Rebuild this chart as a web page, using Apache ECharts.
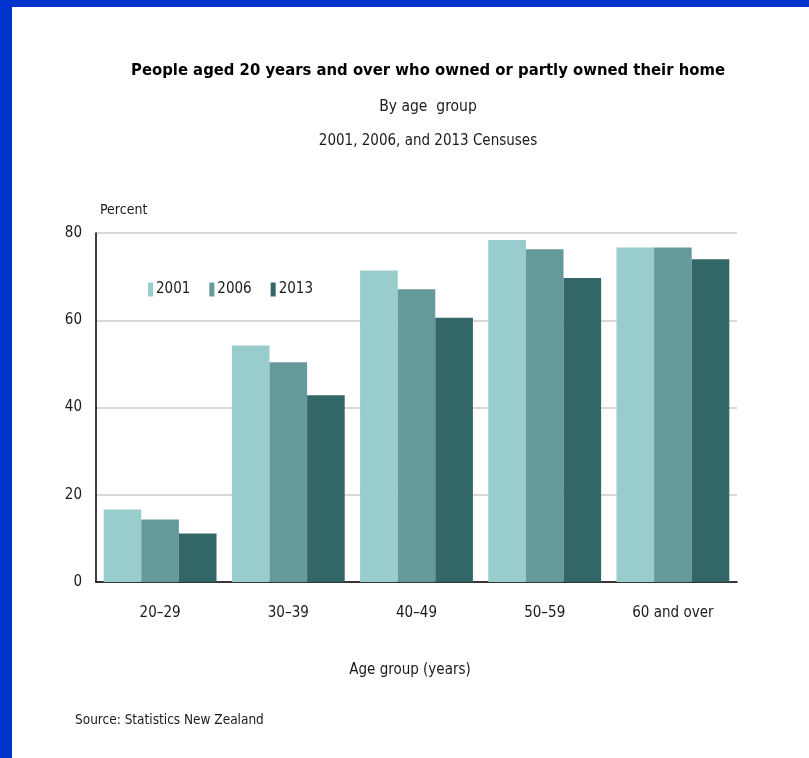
<!DOCTYPE html>
<html>
<head>
<meta charset="utf-8">
<script src="https://cdn.jsdelivr.net/npm/echarts@6/dist/echarts.min.js"></script>
<style>
  html, body { margin: 0; padding: 0; background: #0033cc; }
  #chart { position: absolute; left: 12px; top: 7px; width: 797px; height: 751px; background: #ffffff; }
</style>
</head>
<body>
<div id="chart"></div>
<script>
const ageGroups = ["20–29", "30–39", "40–49", "50–59", "60 and over"];
const values2001 = [16.6, 54.2, 71.4, 78.4, 76.7];
const values2006 = [14.3, 50.4, 67.1, 76.3, 76.7];
const values2013 = [11.1, 42.8, 60.6, 69.7, 74.0];
const yTicks = [0, 20, 40, 60, 80];

const FONT = "'Liberation Sans Narrow', 'DejaVu Sans Condensed', 'Liberation Sans', sans-serif";
const TEXT = "#1a1a1a";

const chart = echarts.init(document.getElementById("chart"));

const makeSeries = (name, data, color) => ({
  name,
  type: "bar",
  data,
  barGap: "0%",
  barCategoryGap: "12%",
  itemStyle: { color },
  emphasis: { disabled: true },
});

const plainText = (size) => ({ fontFamily: FONT, fontSize: size, fontWeight: "normal", color: TEXT });

chart.setOption({
  animation: false,
  backgroundColor: "#ffffff",
  textStyle: { fontFamily: FONT, color: TEXT },
  title: [
    {
      text: "People aged 20 years and over who owned or partly owned their home",
      left: 411,
      top: 50,
      textAlign: "center",
      textStyle: { fontFamily: FONT, fontSize: 16.5, fontWeight: "bold", color: "#000" },
    },
    { text: "By age  group", left: 411, top: 87, textAlign: "center", textStyle: plainText(15.5) },
    { text: "2001, 2006, and 2013 Censuses", left: 411, top: 122, textAlign: "center", textStyle: plainText(15) },
    { text: "Percent", left: 83, top: 191, textStyle: plainText(14) },
    { text: "Age group (years)", left: 393, top: 651, textAlign: "center", textStyle: plainText(15) },
    { text: "Source: Statistics New Zealand", left: 58, top: 701, textStyle: plainText(13.5) },
  ],
  legend: {
    left: 131,
    top: 270,
    itemWidth: 5,
    itemHeight: 14,
    itemGap: 19,
    icon: "rect",
    textStyle: { fontFamily: FONT, fontSize: 15, color: TEXT, padding: [0, 0, 0, -2] },
    data: ["2001", "2006", "2013"],
  },
  grid: { left: 84, right: 72, top: 226, bottom: 176 },
  xAxis: {
    type: "category",
    data: ageGroups,
    axisLine: { lineStyle: { color: "#000", width: 1.5 } },
    axisTick: { show: false },
    axisLabel: { fontFamily: FONT, fontSize: 15, color: TEXT, margin: 24 },
  },
  yAxis: {
    type: "value",
    min: yTicks[0],
    max: yTicks[yTicks.length - 1],
    interval: 20,
    axisLine: { show: true, lineStyle: { color: "#000", width: 1.5 } },
    axisTick: { show: false },
    axisLabel: { fontFamily: FONT, fontSize: 15, color: TEXT, margin: 14 },
    splitLine: { lineStyle: { color: "#d9d9d9", width: 2 } },
  },
  series: [
    makeSeries("2001", values2001, "#99cccc"),
    makeSeries("2006", values2006, "#669999"),
    makeSeries("2013", values2013, "#336666"),
  ],
});
</script>
</body>
</html>
